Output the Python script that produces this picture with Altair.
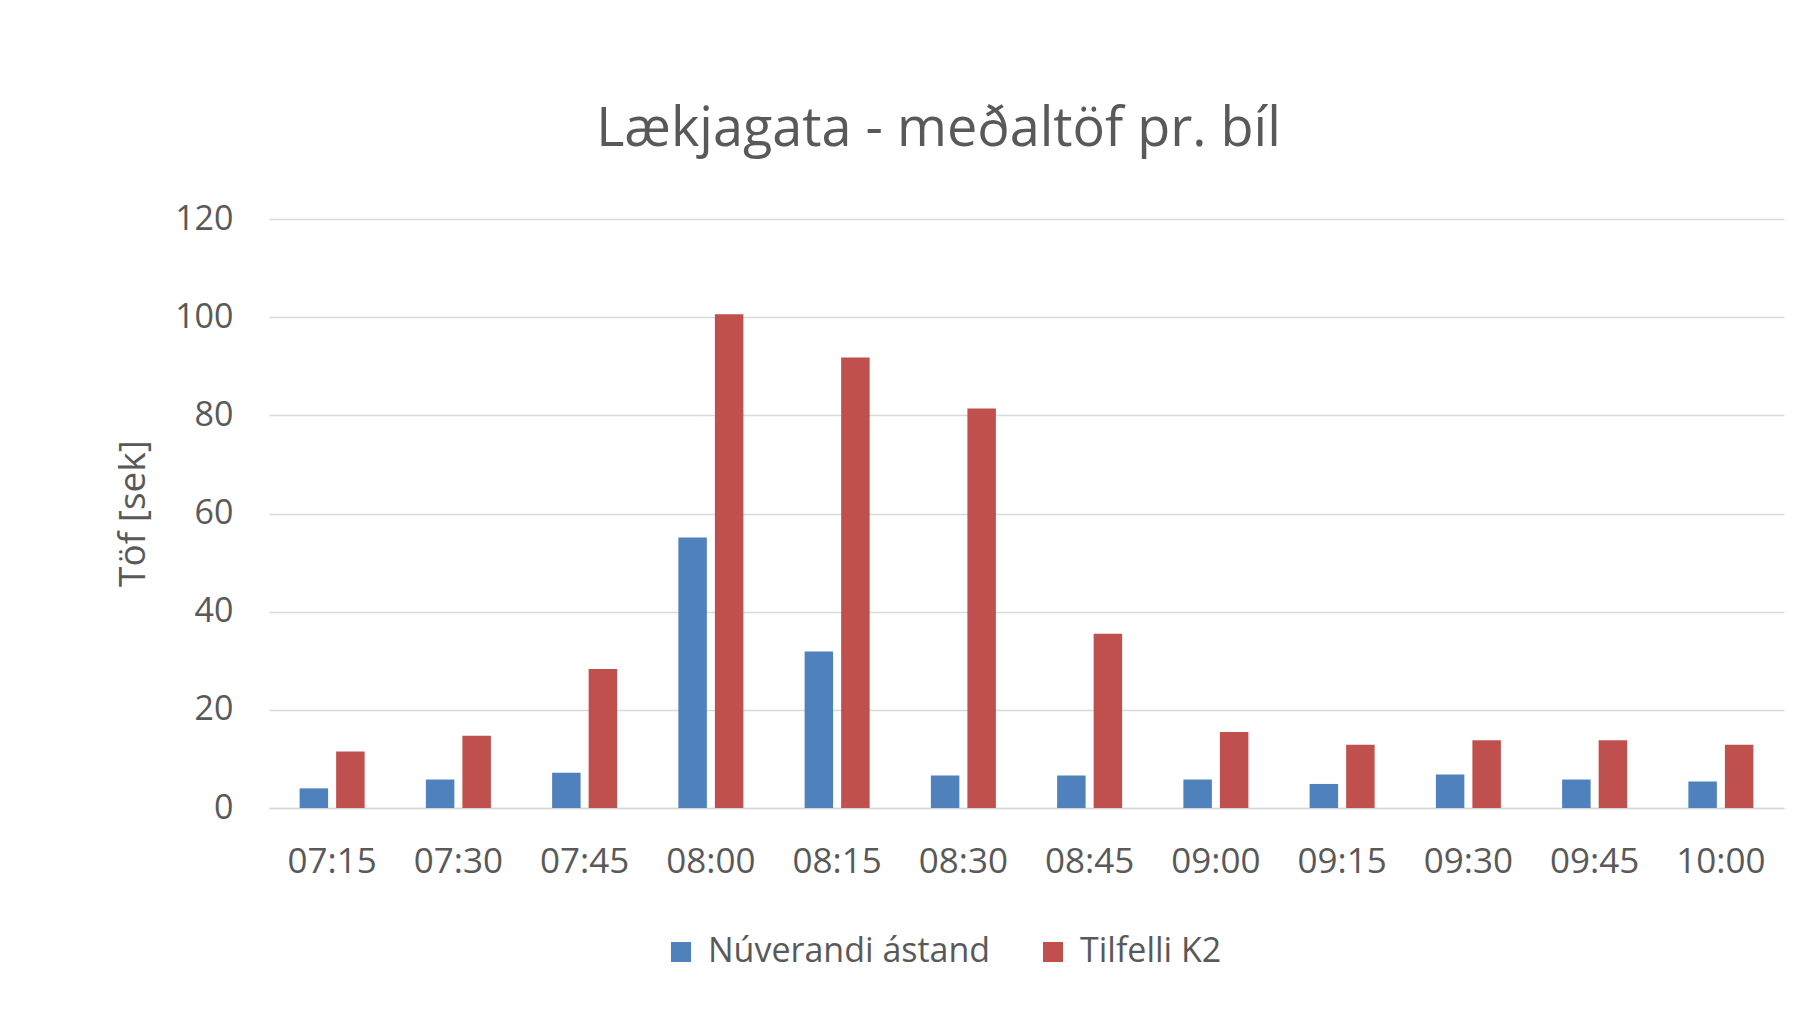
import altair as alt
import pandas as pd

times = ["07:15", "07:30", "07:45", "08:00", "08:15", "08:30",
         "08:45", "09:00", "09:15", "09:30", "09:45", "10:00"]
series = ["Núverandi ástand", "Tilfelli K2"]
nuverandi = [4.0, 5.8, 7.2, 55.1, 31.9, 6.6, 6.6, 5.8, 4.9, 6.8, 5.8, 5.4]
tilfelli = [11.5, 14.7, 28.3, 100.6, 91.8, 81.4, 35.5, 15.5, 12.9, 13.8, 13.8, 12.9]
colors = ["#4F81BD", "#C0504D"]
y_ticks = [0, 20, 40, 60, 80, 100, 120]

rows = []
for t, a, b in zip(times, nuverandi, tilfelli):
    rows.append({"Tími": t, "Röð": series[0], "Töf": a})
    rows.append({"Tími": t, "Röð": series[1], "Töf": b})
df = pd.DataFrame(rows)

FONT = "Open Sans"
TXT = "#595959"

chart = alt.Chart(df).mark_bar().encode(
    x=alt.X("Tími:N", sort=times,
            scale=alt.Scale(paddingInner=0.485, paddingOuter=0.2425),
            axis=alt.Axis(title=None, labelAngle=0, labelFontSize=35, labelFont=FONT,
                          labelColor=TXT, ticks=False, domainColor="#D9D9D9",
                          domainWidth=1.5, labelPadding=36)),
    xOffset=alt.XOffset("Röð:N", sort=series,
                        scale=alt.Scale(paddingInner=0.22, paddingOuter=0)),
    y=alt.Y("Töf:Q", scale=alt.Scale(domain=[0, 120]),
            axis=alt.Axis(title="Töf [sek]", values=y_ticks, ticks=False, domain=False,
                          labelFontSize=34, labelFont=FONT, labelColor=TXT,
                          labelPadding=36, gridColor="#D9D9D9", gridWidth=1.5,
                          titleFontSize=37, titleFont=FONT, titleColor=TXT,
                          titleFontWeight="normal", titleX=-136, titleY=294,
                          titleBaseline="middle", titleAlign="center", titleAngle=-90)),
    color=alt.Color("Röð:N", sort=series,
                    scale=alt.Scale(domain=series, range=colors),
                    legend=alt.Legend(title=None, orient="none", direction="horizontal",
                                      legendX=395, legendY=716, symbolType="square",
                                      symbolSize=400, symbolStrokeWidth=0,
                                      labelFontSize=34, labelFont=FONT, labelColor=TXT,
                                      labelOffset=10, columnPadding=45, labelLimit=0)),
).properties(
    width=1515,
    height=589,
    padding={"left": 261, "top": 211, "right": 20, "bottom": 190},
    autosize=alt.AutoSizeParams(type="none"),
    title=alt.TitleParams(text="Lækjagata - meðaltöf pr. bíl", fontSize=54, font=FONT,
                          color=TXT, fontWeight="normal", anchor="middle", dx=-88,
                          offset=45),
).configure_view(stroke=None)

chart.save("out.html", embed_options={"renderer": "svg", "actions": False})
